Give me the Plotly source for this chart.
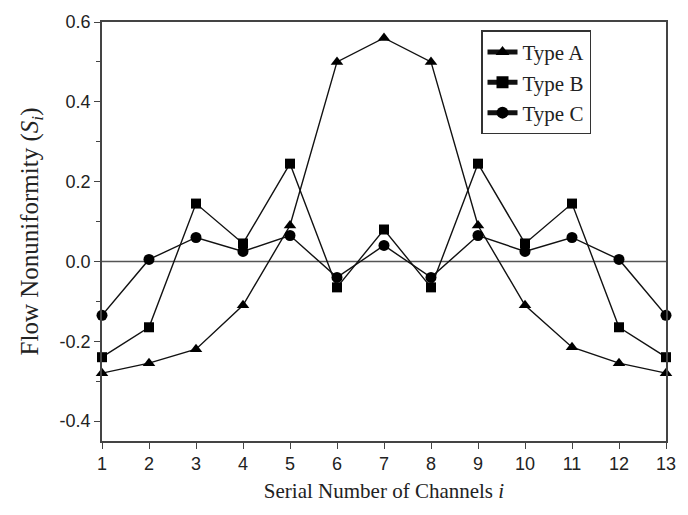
import plotly.graph_objects as go

channels = list(range(1, 14))
type_a = [-0.28, -0.255, -0.22, -0.11, 0.09, 0.50, 0.56, 0.50, 0.09, -0.11, -0.215, -0.255, -0.28]
type_b = [-0.24, -0.165, 0.145, 0.045, 0.245, -0.065, 0.08, -0.065, 0.245, 0.045, 0.145, -0.165, -0.24]
type_c = [-0.135, 0.005, 0.06, 0.025, 0.065, -0.04, 0.04, -0.04, 0.065, 0.025, 0.06, 0.005, -0.135]
series_names = ["Type A", "Type B", "Type C"]
symbols = ["triangle-up", "square", "circle"]
y_ticks = [-0.4, -0.2, 0.0, 0.2, 0.4, 0.6]
y_tick_labels = ["-0.4", "-0.2", "0.0", "0.2", "0.4", "0.6"]

fig = go.Figure()
for name, ys, sym in zip(series_names, [type_a, type_b, type_c], symbols):
    fig.add_trace(go.Scatter(
        x=channels, y=ys, name=name, mode="lines+markers",
        line=dict(color="#111111", width=1.4),
        marker=dict(symbol=sym, size=11 if sym != "square" else 10, color="#000000"),
        cliponaxis=False,
    ))

fig.add_shape(type="line", xref="paper", x0=0, x1=1, yref="y", y0=0, y1=0,
              line=dict(color="#555555", width=1.4), layer="below")

axis_common = dict(showgrid=False, zeroline=False, showline=True, linecolor="#444444",
                   linewidth=1.5, mirror=True, ticks="outside", tickcolor="#444444",
                   tickwidth=1.2, ticklen=6,
                   tickfont=dict(family="Liberation Sans, Arial", size=18, color="#222222"))

fig.update_layout(
    width=688, height=515,
    margin=dict(l=102, r=16, t=20, b=74),
    paper_bgcolor="white", plot_bgcolor="white",
    showlegend=True,
    legend=dict(x=0.672, y=0.98, xanchor="left", yanchor="top",
                bordercolor="#333333", borderwidth=1.5, bgcolor="white",
                font=dict(family="Liberation Serif, Times New Roman", size=21, color="#222222"),
                tracegroupgap=0, itemsizing="constant"),
    xaxis=dict(range=[1, 13], tickvals=channels, ticktext=[str(c) for c in channels],
               title=dict(text="Serial Number of Channels <i>i</i>",
                          font=dict(family="Liberation Serif, Times New Roman", size=21, color="#222222"),
                          standoff=10),
               **axis_common),
    yaxis=dict(range=[-0.45, 0.6], tickvals=y_ticks, ticktext=y_tick_labels,
               minor=dict(dtick=0.1, tick0=0, ticks="outside", ticklen=4, tickcolor="#444444", tickwidth=1.2),
               title=dict(text="Flow Nonuniformity (<i>S<sub>i</sub></i>)",
                          font=dict(family="Liberation Serif, Times New Roman", size=25, color="#222222"),
                          standoff=14),
               **axis_common),
)

fig.write_html("out.html")
